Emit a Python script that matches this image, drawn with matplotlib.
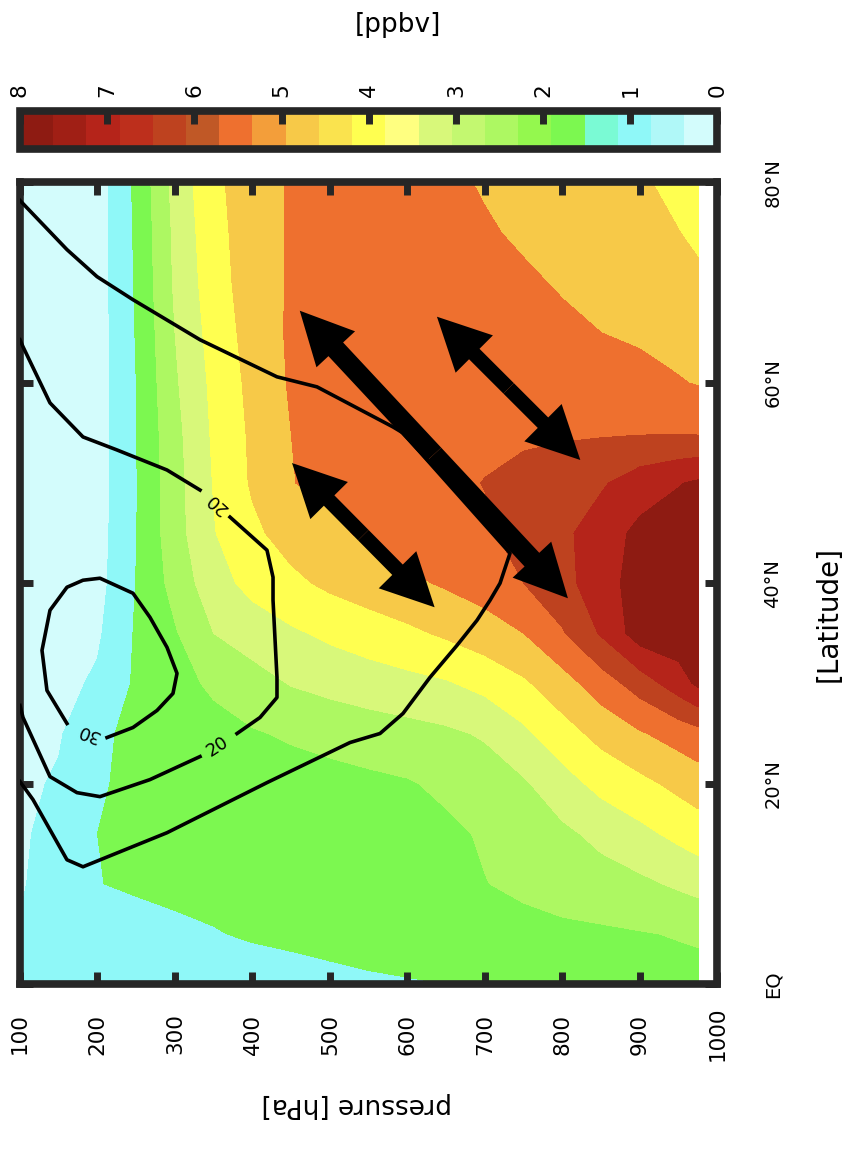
import numpy as np
import matplotlib
matplotlib.use('Agg')
import matplotlib.pyplot as plt
from matplotlib import font_manager
from matplotlib.colors import ListedColormap, BoundaryNorm
from matplotlib.cm import ScalarMappable
from matplotlib.patches import FancyArrowPatch, ArrowStyle

# grid of the ozone field (ppbv), rows = latitude, columns = pressure
lats = [0, 5, 10, 15, 20, 25, 30, 35, 40, 45, 50, 55, 60, 65, 70, 75, 80]
pres = [100, 150, 200, 250, 300, 350, 400, 450, 500, 550, 600, 650, 700,
        750, 800, 850, 900, 950, 975]
o3 = [
    [0.83, 0.98, 1.09, 1.16, 1.22, 1.26, 1.31, 1.35, 1.39, 1.43, 1.46, 1.50, 1.58, 1.65, 1.76, 1.88, 1.95, 2.01, 2.04],
    [0.79, 1.01, 1.24, 1.35, 1.43, 1.48, 1.54, 1.58, 1.63, 1.69, 1.76, 1.84, 1.91, 2.01, 2.10, 2.14, 2.21, 2.29, 2.33],
    [0.68, 1.09, 1.49, 1.55, 1.58, 1.61, 1.65, 1.69, 1.73, 1.79, 1.88, 2.03, 2.23, 2.40, 2.55, 2.70, 2.85, 3.11, 3.26],
    [0.64, 1.01, 1.50, 1.58, 1.63, 1.67, 1.73, 1.77, 1.82, 1.89, 1.97, 2.10, 2.33, 2.59, 2.85, 3.19, 3.56, 3.94, 4.13],
    [0.60, 0.83, 1.43, 1.65, 1.73, 1.80, 1.88, 1.94, 2.01, 2.09, 2.19, 2.40, 2.63, 2.91, 3.45, 3.98, 4.31, 4.69, 4.88],
    [0.53, 0.68, 1.31, 1.73, 1.88, 2.03, 2.19, 2.34, 2.48, 2.63, 2.74, 2.87, 3.08, 3.60, 4.20, 4.73, 5.18, 5.55, 5.74],
    [0.41, 0.53, 0.86, 1.61, 2.03, 2.36, 2.70, 3.04, 3.23, 3.38, 3.53, 3.68, 3.98, 4.39, 4.95, 5.63, 6.34, 7.16, 7.65],
    [0.34, 0.45, 0.64, 1.58, 2.18, 3.00, 3.34, 3.64, 3.90, 4.13, 4.35, 4.61, 4.91, 5.25, 5.93, 6.83, 7.88, 7.94, 7.96],
    [0.26, 0.34, 0.49, 1.52, 2.51, 3.45, 3.98, 4.33, 4.65, 4.88, 5.10, 5.34, 5.59, 6.00, 6.53, 7.13, 7.88, 7.95, 7.97],
    [0.23, 0.32, 0.45, 1.48, 2.70, 3.71, 4.35, 4.80, 5.06, 5.40, 5.59, 5.74, 5.90, 6.23, 6.59, 7.13, 7.69, 7.90, 7.93],
    [0.23, 0.30, 0.41, 1.47, 2.72, 3.79, 4.59, 5.23, 5.40, 5.55, 5.70, 5.85, 6.02, 6.23, 6.45, 6.66, 7.13, 7.46, 7.61],
    [0.23, 0.30, 0.41, 1.49, 2.78, 3.86, 4.63, 5.25, 5.51, 5.66, 5.74, 5.79, 5.84, 5.87, 5.90, 5.93, 5.95, 5.95, 5.93],
    [0.23, 0.30, 0.41, 1.50, 2.90, 3.93, 4.71, 5.33, 5.59, 5.78, 5.85, 5.89, 5.89, 5.81, 5.70, 5.59, 5.48, 5.29, 5.21],
    [0.23, 0.30, 0.41, 1.54, 3.00, 4.05, 4.80, 5.36, 5.63, 5.78, 5.85, 5.81, 5.70, 5.55, 5.40, 5.25, 5.14, 5.03, 4.95],
    [0.23, 0.30, 0.41, 1.58, 3.10, 4.17, 4.87, 5.33, 5.59, 5.74, 5.78, 5.70, 5.55, 5.36, 5.18, 5.03, 4.88, 4.73, 4.61],
    [0.23, 0.30, 0.41, 1.61, 3.15, 4.26, 4.87, 5.33, 5.55, 5.70, 5.70, 5.55, 5.33, 5.14, 4.98, 4.82, 4.67, 4.51, 4.39],
    [0.23, 0.30, 0.41, 1.65, 3.24, 4.34, 4.88, 5.33, 5.55, 5.66, 5.63, 5.40, 5.18, 5.03, 4.88, 4.73, 4.57, 4.35, 4.20],
]

# colour scale, 0 -> 8 ppbv
cbar_colors = ['#D3FCFC', '#B0F8F8', '#8FF8F8', '#7AFAD4', '#7CF850', '#94F84E',
               '#ADF862', '#C3F870', '#D8F87A', '#FFFF80', '#FFFF50', '#FAE34E',
               '#F7C948', '#F39E3A', '#EE702F', '#C05826', '#BE421F', '#BD2F1C',
               '#B5241A', '#A01F15', '#8E1B12']
cbar_ticks = [0, 1, 2, 3, 4, 5, 6, 7, 8]
fill_levels = [0, 0.75, 1.5, 2.25, 3.0, 3.75, 4.5, 5.25, 6.0, 6.75, 7.5, 8.0]
fill_colors = cbar_colors[::2]

# black contours (pressure, latitude); nan = gap for a label
line20_outer_p = [100, 160.6, 199.4, 245.8, 332.3, 431.6, 483.2, 581.3, 594.2, 732.3, 719.4,
                  706.5, 689.7, 663.9, 629.0, 594.2, 564.5, 525.8, 418.7, 289.7, 181.3,
                  160.6, 116.8, 100]
line20_outer_lat = [78.2, 73.3, 70.6, 68.3, 64.3, 60.6, 59.6, 55.6, 55.0, 43.0, 40.0,
                    38.3, 36.3, 33.8, 30.6, 27.0, 25.0, 24.1, 20.1, 15.1, 11.7,
                    12.4, 18.4, 20.2]
line20_inner_p = [100, 103.9, 138.7, 181.3, 225.2, 289.7, 332.3, np.nan, 371.0, 418.7, 426.5,
                  426.5, 431.6, 431.6, 409.7, 380.0, np.nan, 332.3, 267.7, 203.2, 173.5,
                  138.7, 103.9, 100]
line20_inner_lat = [64.3, 63.6, 58.0, 54.6, 53.3, 51.3, 49.3, np.nan, 46.6, 43.3, 40.6,
                    38.3, 30.6, 28.6, 26.6, 25.0, np.nan, 22.7, 20.4, 18.7, 19.1,
                    20.7, 26.6, 27.8]
line30_p = [212.3, 245.8, 276.8, 297.4, 302.6, 289.7, 267.7, 245.8, 203.2, 181.3, 160.6,
            138.7, 128.4, 134.8, 160.6]
line30_lat = [24.6, 25.6, 27.3, 29.0, 31.0, 33.6, 36.6, 39.0, 40.5, 40.3, 39.6,
              37.3, 33.3, 29.3, 26.0]
contour_labels = [(354.2, 48.0, '20', 138), (354.2, 23.7, '20', 33), (187.7, 25.1, '30', 159)]

# double arrows (pressure, latitude) end points
arrows = [((461, 67.2), (807, 38.5), 0.38),
          ((638, 66.6), (823, 52.3), 0.28),
          ((451, 52.0), (635, 37.6), 0.28)]

p_ticks = [100, 200, 300, 400, 500, 600, 700, 800, 900, 1000]
p_labels = [str(p) for p in p_ticks]
lat_ticks = [0, 20, 40, 60, 80]
lat_labels = ['EQ', '20°N', '40°N', '60°N', '80°N']

names = {f.name for f in font_manager.fontManager.ttflist}
if 'Liberation Sans Narrow' in names:
    narrow, lat_fs, latlab_fs, ppbv_fs = 'Liberation Sans Narrow', 20, 30, 28
else:
    narrow, lat_fs, latlab_fs, ppbv_fs = 'DejaVu Sans', 14, 20, 19

frame = '#262626'

fig = plt.figure(figsize=(8.47, 11.49), dpi=100)
ax = fig.add_axes([0.0236, 0.1436, 0.8235, 0.6976])

P, L = np.meshgrid(pres, lats)
ax.contourf(P, L, np.array(o3), levels=fill_levels, colors=fill_colors)

lw = 2.6
ax.plot(line20_outer_p, line20_outer_lat, color='black', lw=lw, zorder=3)
ax.plot(line20_inner_p, line20_inner_lat, color='black', lw=lw, zorder=3)
ax.plot(line30_p, line30_lat, color='black', lw=lw, zorder=3)
for p, la, txt, rot in contour_labels:
    ax.text(p, la, txt, rotation=rot, ha='center', va='center', fontsize=13,
            rotation_mode='anchor', zorder=4)

for a, b, tw in arrows:
    mid = ((a[0] + b[0]) / 2, (a[1] + b[1]) / 2)
    style = ArrowStyle('simple', head_length=1.0, head_width=1.0, tail_width=tw)
    for end in (a, b):
        ax.add_patch(FancyArrowPatch(mid, end, arrowstyle=style, mutation_scale=38,
                                     color='black', lw=0, shrinkA=0, shrinkB=0, zorder=5))

ax.set_xlim(100, 1000)
ax.set_ylim(0, 80)
ax.set_xticks(p_ticks, p_labels)
ax.set_yticks(lat_ticks, lat_labels)
ax.tick_params(direction='in', length=9, width=5, color=frame, top=True, right=True,
               labelleft=False, labelright=True, labelsize=15.5)
ax.tick_params(axis='x', pad=36, labelrotation=90)
ax.tick_params(axis='y', pad=40, labelrotation=90)
for t in ax.get_xticklabels():
    t.set_va('center')
    t.set_ha('center')
for t in ax.get_yticklabels():
    t.set_ha('center')
    t.set_va('center')
    t.set_fontfamily(narrow)
    t.set_fontsize(lat_fs)
for s in ax.spines.values():
    s.set_linewidth(5.5)
    s.set_color(frame)

ax.set_xlabel('pressure [hPa]', fontsize=19, rotation=180)
ax.xaxis.label.set_va('center')
ax.xaxis.set_label_coords(0.483, -0.151)
ax.yaxis.set_label_position('right')
ax.set_ylabel('[Latitude]', fontsize=latlab_fs, family=narrow, rotation=90)
ax.yaxis.label.set_va('center')
ax.yaxis.label.set_ha('center')
ax.yaxis.set_label_coords(1.16, 0.4616)

# colour bar on top, 8 at the left
cax = fig.add_axes([0.0236, 0.8699, 0.8235, 0.0335])
cmap = ListedColormap(cbar_colors)
norm = BoundaryNorm(np.linspace(0, 8, len(cbar_colors) + 1), len(cbar_colors))
cb = fig.colorbar(ScalarMappable(norm=norm, cmap=cmap), cax=cax, orientation='horizontal',
                  ticks=cbar_ticks)
cax.invert_xaxis()
cax.xaxis.set_ticks_position('top')
cax.tick_params(direction='in', length=9, width=5, color=frame, labelsize=15.5, pad=15,
                labelrotation=90)
for t in cax.get_xticklabels():
    t.set_va('center')
    t.set_ha('center')
cb.outline.set_linewidth(5.5)
cb.outline.set_edgecolor(frame)
cax.xaxis.set_label_position('top')
cax.set_xlabel('[ppbv]', fontsize=ppbv_fs, family=narrow)
cax.xaxis.label.set_va('center')
cax.xaxis.set_label_coords(0.5415, 3.23)

fig.savefig('out.png', dpi=100)
